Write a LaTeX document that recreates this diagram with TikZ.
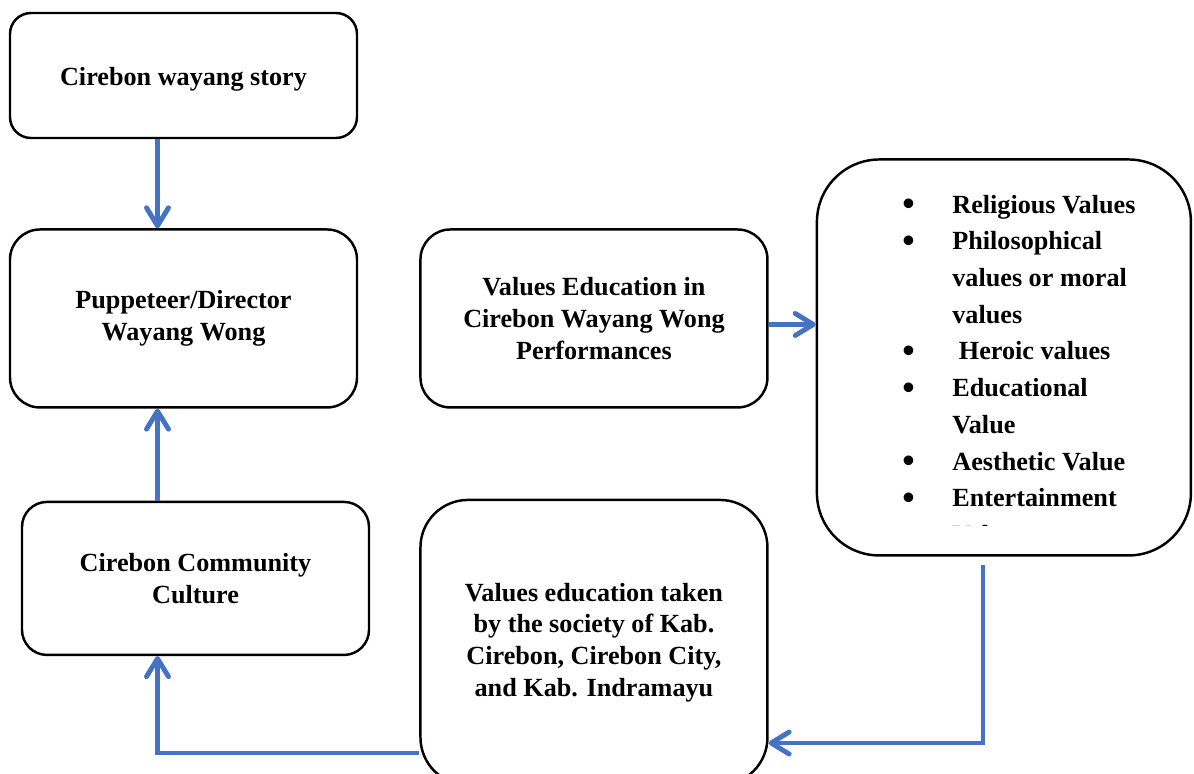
\documentclass[tikz,border=0pt]{standalone}
\usepackage{fontspec}
\setmainfont{Liberation Serif}
\usetikzlibrary{arrows.meta,positioning}
\definecolor{flowblue}{HTML}{4472C4}
\newcommand{\valbullet}{\raisebox{-1.6pt}{\scalebox{1.35}{\textbullet}}}

\begin{document}
\begin{tikzpicture}[
    box/.style={draw, line width=1.4pt, align=center, minimum width=6.94cm,
      font=\fontsize{14.9}{18}\selectfont\bfseries},
    flow/.style={draw=flowblue, line width=2.8pt,
      -{Straight Barb[length=0.36cm, width=0.44cm, line width=2.8pt, round]}}
  ]
  \useasboundingbox (0,0) rectangle (23.88,-15.46);
  \coordinate (spine) at (3.15,0);

  \node [box, minimum height=2.5cm, rounded corners=0.42cm, text height=0.5cm, text depth=0.12cm]
    (story) at (3.67,-1.51) {Cirebon wayang story};
  \node [box, minimum height=3.56cm, rounded corners=0.6cm, below=1.78cm of story] (pupp)
    {Puppeteer/Director\\Wayang Wong};
  \node [box, minimum height=3.06cm, rounded corners=0.5cm, below=1.84cm of pupp, xshift=0.24cm] (comm)
    {Cirebon Community\\Culture};
  \node [box, minimum height=3.56cm, rounded corners=0.6cm, right=1.22cm of pupp] (edu)
    {Values Education in\\Cirebon Wayang Wong\\Performances};
  \node [box, minimum width=7.48cm, minimum height=7.92cm, rounded corners=1.25cm,
    right=0.94cm of edu, yshift=-0.78cm] (vals) {};
  \node [box, minimum height=5.7cm, rounded corners=0.95cm, below=1.8cm of edu] (soc)
    {Values education taken\\by the society of Kab.\\Cirebon, Cirebon City,\\and Kab. Indramayu};

  % list of values, cut off at the bottom of its frame
  \begin{scope}
    \clip (vals.north west) rectangle (vals.east |- 0,-10.5);
    \node [anchor=base west, inner sep=0pt, font=\fontsize{14.9}{20.9}\selectfont\bfseries] (vallist)
      at (18.04,-4.26) {%
      \begin{tabular}[t]{@{}p{1.0cm}@{}l@{}}
        \valbullet & Religious Values\\
        \valbullet & Philosophical\\
                   & values or moral\\
                   & values\\
        \valbullet & \ Heroic values\\
        \valbullet & Educational\\
                   & Value\\
        \valbullet & Aesthetic Value\\
        \valbullet & Entertainment\\
                   & Value
      \end{tabular}};
  \end{scope}

  \draw [flow] (spine |- story.south) -- (spine |- pupp.north);
  \draw [flow] (spine |- comm.north) -- (spine |- pupp.south);
  \draw [flow] ([yshift=-0.12cm]edu.east) -- ([yshift=-0.12cm]edu.east -| vals.west);
  \coordinate (tail) at (19.66,-11.3);
  \draw [flow] (tail) |- (soc.east |- 0,-14.86);
  \draw [flow] (soc.west |- 0,-15.06) -| (spine |- comm.south);
\end{tikzpicture}
\end{document}
